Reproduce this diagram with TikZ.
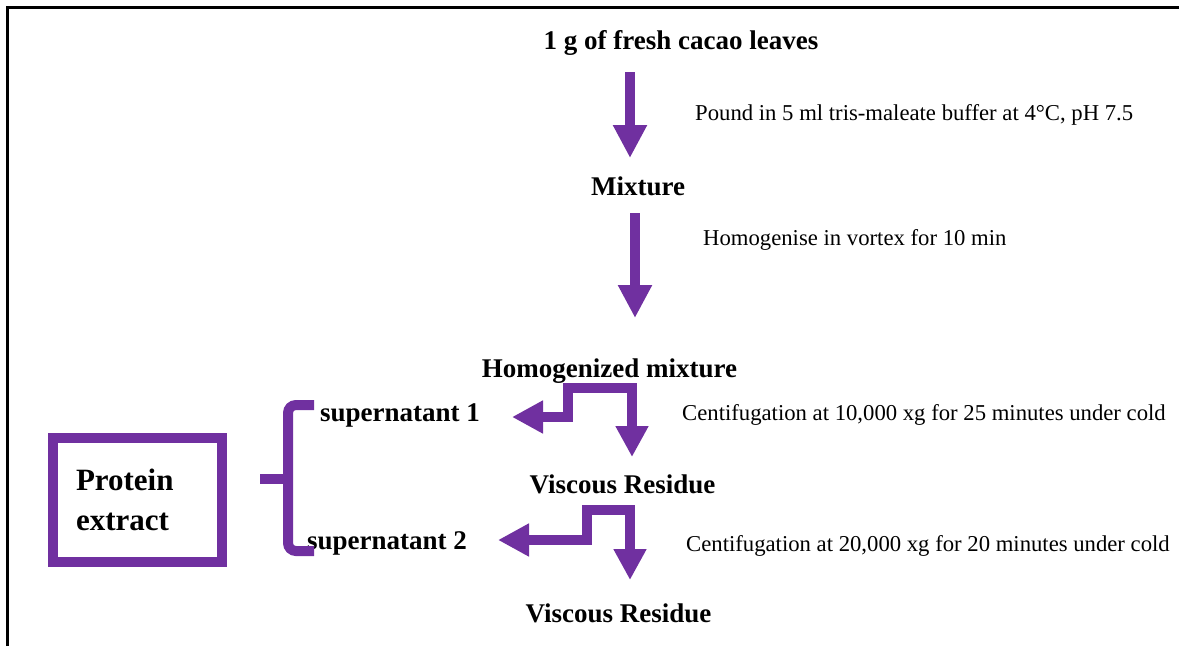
\documentclass[tikz,border=0pt]{standalone}
\usepackage{fontspec}
\setmainfont{Liberation Serif}
\usetikzlibrary{arrows.meta}
\definecolor{flowpurple}{HTML}{7030A0}

\begin{document}
\begin{tikzpicture}[x=1pt, y=-1pt,
    stage/.style={font=\fontsize{27}{32}\selectfont\bfseries, inner sep=0pt, anchor=base},
    note/.style={font=\fontsize{22.7}{27}\selectfont, inner sep=0pt, anchor=base west},
    flow/.style={flowpurple, line width=10pt, -{Triangle[width=32pt,length=33pt]}},
    split/.style={flowpurple, line width=10pt, line join=miter,
        {Triangle[width=31pt,length=31pt]}-{Triangle[width=31pt,length=31pt]}}]
    \useasboundingbox (0,0) rectangle (1179,646);
    \draw[line width=3pt] (7.5,646) -- (7.5,7) -- (1179,7);

    \node[stage] (leaves) at (681,49) {1 g of fresh cacao leaves};
    \node[stage] (mix) at (638,195) {Mixture};
    \node[stage] (homo) at (609.5,377) {Homogenized mixture};
    \node[stage] (visc1) at (622.5,493) {Viscous Residue};
    \node[stage] (visc2) at (618.5,622) {Viscous Residue};
    \node[stage, anchor=base west] (sup1) at (320,421) {supernatant 1};
    \node[stage, anchor=base west] (sup2) at (307,549) {supernatant 2};

    \node[note] (pound) at (695,120.5) {Pound in 5 ml tris-maleate buffer at 4\textdegree C, pH 7.5};
    \node[note] (vortex) at (703,245.5) {Homogenise in vortex for 10 min};
    \node[note] (cent1) at (682,420.5) {Centifugation at 10,000 xg for 25 minutes under cold};
    \node[note] (cent2) at (686,551.5) {Centifugation at 20,000 xg for 20 minutes under cold};

    \node[draw=flowpurple, line width=10pt, minimum width=169pt, minimum height=124pt,
        text width=123pt, align=left, inner sep=0pt,
        font=\fontsize{31}{40}\selectfont\bfseries] (extract) at (137.5,500) {Protein\\extract};

    % straight steps
    \coordinate (a1top) at (630,72);
    \coordinate (a1tip) at (630,158);
    \coordinate (a2top) at (635,213);
    \coordinate (a2tip) at (635,318);
    \draw[flow] (a1top) -- (a1tip);
    \draw[flow] (a2top) -- (a2tip);

    % centrifugation splits
    \coordinate (s1tip) at (512,417);
    \coordinate (s1a) at (568,417);
    \coordinate (s1b) at (568,388);
    \coordinate (s1c) at (632,388);
    \coordinate (v1tip) at (632,457);
    \draw[split] (s1tip) -- (s1a) -- (s1b) -- (s1c) -- (v1tip);

    \coordinate (s2tip) at (498,540);
    \coordinate (s2a) at (587,540);
    \coordinate (s2b) at (587,510);
    \coordinate (s2c) at (630,510);
    \coordinate (v2tip) at (630,580);
    \draw[split] (s2tip) -- (s2a) -- (s2b) -- (s2c) -- (v2tip);

    % brace
    \coordinate (brtop) at (314,405);
    \coordinate (brbot) at (314,551);
    \coordinate (brmid) at (288,479);
    \coordinate (brstub) at (260,479);
    \draw[flowpurple, line width=10pt, rounded corners=8pt]
        (brtop) -- (brtop -| brmid) -- (brbot -| brmid) -- (brbot);
    \draw[flowpurple, line width=10pt] (brstub) -- (brmid);
\end{tikzpicture}
\end{document}
